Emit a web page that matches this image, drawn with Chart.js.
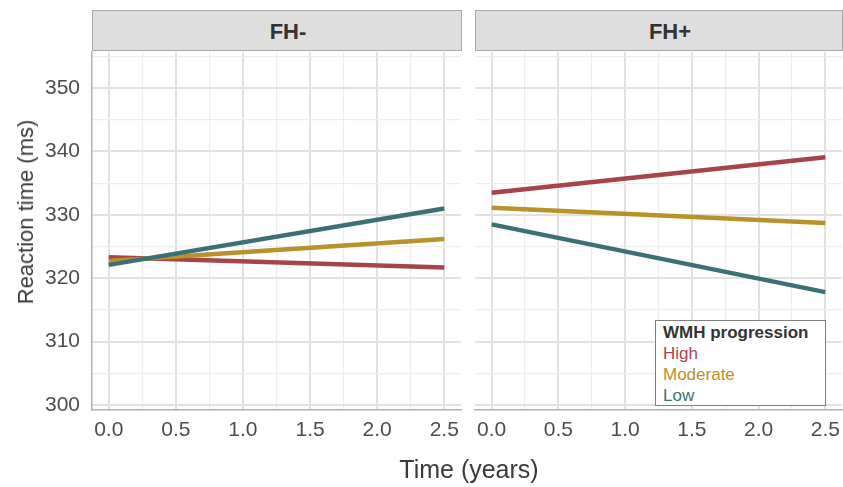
<!DOCTYPE html>
<html>
<head>
<meta charset="utf-8">
<script src="https://cdn.jsdelivr.net/npm/chart.js@4"></script>
<style>
  body { margin: 0; background: #fff; font-family: "Liberation Sans", Arial, sans-serif; }
  #wrap { position: relative; width: 843px; height: 487px; overflow: hidden; }
  .cv { position: absolute; top: 0; height: 487px; }
  #cvL { left: 0; width: 462px; }
  #cvR { left: 462px; width: 381px; }
  .strip { position: absolute; top: 10px; height: 41px; background: #dedede; border: 1px solid #a8a8a8;
           font-weight: bold; font-size: 22px; color: #333; text-align: center; line-height: 41px;
           padding-left: 22px; box-sizing: border-box; }
  #ytitle { position: absolute; left: 26px; top: 212px; transform: translate(-50%, -50%) rotate(-90deg);
            font-size: 22px; color: #3a3a3a; white-space: nowrap; }
  #xtitle { position: absolute; left: 469px; top: 469px; transform: translate(-50%, -50%);
            font-size: 25px; color: #3a3a3a; white-space: nowrap; }
  #legend { position: absolute; left: 655px; top: 320px; width: 171px; height: 86px; border: 1px solid #7f7f7f;
            background: #fff; font-size: 17px; line-height: 21px; padding: 1px 0 0 7px; box-sizing: border-box; }
  #legend b { color: #333; }
</style>
</head>
<body>
<div id="wrap">
  <canvas id="cvL" class="cv" width="462" height="487"></canvas>
  <canvas id="cvR" class="cv" width="381" height="487"></canvas>
  <div class="strip" style="left:92px; width:370px;">FH-</div>
  <div class="strip" style="left:475px; width:368px;">FH+</div>
  <div id="ytitle">Reaction time (ms)</div>
  <div id="xtitle">Time (years)</div>
  <div id="legend"></div>
</div>
<script>
// ---- data ----
const timePoints = [0, 2.5];
const groups = ["High", "Moderate", "Low"];
const colors = ["#a6444a", "#b8922a", "#3b7175"];

// FH- panel
const fhMinus = {
  High:     [323.3, 321.7],
  Moderate: [322.7, 326.2],
  Low:      [322.1, 331.0]
};
// FH+ panel
const fhPlus = {
  High:     [333.5, 339.1],
  Moderate: [331.1, 328.7],
  Low:      [328.5, 317.8]
};

const xTicks = [0, 0.25, 0.5, 0.75, 1, 1.25, 1.5, 1.75, 2, 2.25, 2.5];
const yTicks = [300, 305, 310, 315, 320, 325, 330, 335, 340, 345, 350, 355];
const xRange = [-0.125, 2.625];
const yRange = [299.2, 355.7];

// --- helpers ---
const FONT = "'Liberation Sans', Arial, sans-serif";
const isMajorX = v => Math.abs(v * 2 - Math.round(v * 2)) < 1e-9;
const isMajorY = v => v % 10 === 0;

function gridStyle(isMajor) {
  return {
    color: ctx => (ctx.tick && isMajor(ctx.tick.value)) ? "#e1e1e1" : "#ededed",
    lineWidth: ctx => (ctx.tick && isMajor(ctx.tick.value)) ? 2 : 1.2,
    drawTicks: false
  };
}

function makeDatasets(panel) {
  return groups.map((g, i) => ({
    label: g,
    data: timePoints.map((t, j) => ({ x: t, y: panel[g][j] })),
    borderColor: colors[i],
    borderWidth: 4.5,
    pointRadius: 0,
    fill: false
  }));
}

function makeChart(id, panel, left) {
  return new Chart(document.getElementById(id), {
    type: "line",
    data: { datasets: makeDatasets(panel).reverse() },
    options: {
      responsive: false,
      animation: false,
      events: [],
      layout: { padding: { top: 52, right: 1, left: 0, bottom: 0 } },
      plugins: { legend: { display: false }, tooltip: { enabled: false } },
      scales: {
        x: {
          type: "linear",
          min: xRange[0], max: xRange[1],
          afterBuildTicks: s => { s.ticks = xTicks.map(v => ({ value: v })); },
          afterFit: s => { s.height = 77; s.paddingLeft = 0; s.paddingRight = 0; },
          grid: gridStyle(isMajorX),
          border: { display: true, color: "#b0b0b0", width: 1.5 },
          ticks: {
            autoSkip: false, maxRotation: 0, padding: 8,
            color: "#4d4d4d", font: { family: FONT, size: 21 },
            callback: v => isMajorX(v) ? v.toFixed(1) : ""
          }
        },
        y: {
          min: yRange[0], max: yRange[1],
          afterBuildTicks: s => { s.ticks = yTicks.map(v => ({ value: v })); },
          afterFit: s => { s.width = left ? 92 : 13; s.paddingTop = 0; s.paddingBottom = 0; },
          grid: gridStyle(isMajorY),
          border: { display: left, color: "#b0b0b0", width: 1.5 },
          ticks: {
            display: left, autoSkip: false, padding: 12,
            color: "#4d4d4d", font: { family: FONT, size: 21 },
            callback: v => isMajorY(v) ? String(v) : ""
          }
        }
      }
    }
  });
}

makeChart("cvL", fhMinus, true);
makeChart("cvR", fhPlus, false);

// legend
const legend = document.getElementById("legend");
legend.innerHTML = "<b>WMH progression</b>" +
  groups.map((g, i) => `<div style="color:${colors[i]}">${g}</div>`).join("");
</script>
</body>
</html>
